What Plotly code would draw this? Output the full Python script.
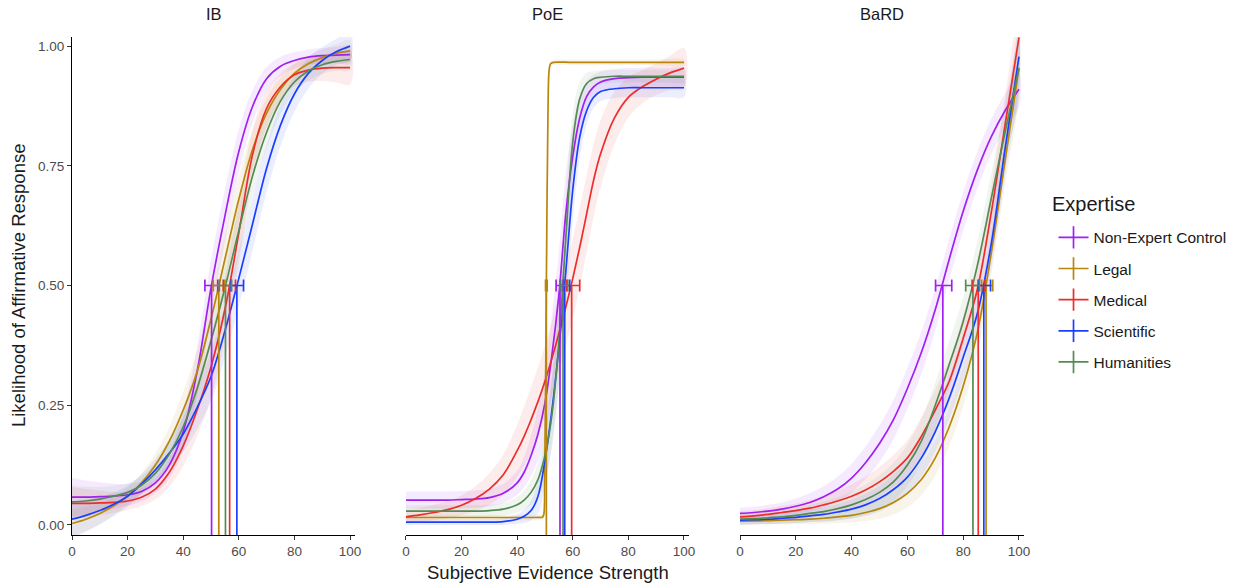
import plotly.graph_objects as go

# ---------------- data ----------------
EXPERTISE = ["Non-Expert Control", "Legal", "Medical", "Scientific", "Humanities"]
COLORS = ["#A020F0", "#B8860B", "#EE2C2C", "#1C3FFF", "#548B54"]
FILLS = ["rgba(160,32,240,0.09)", "rgba(184,134,11,0.09)", "rgba(238,44,44,0.09)",
         "rgba(28,63,255,0.09)", "rgba(84,139,84,0.09)"]

PANELS = ["IB", "PoE", "BaRD"]
LEGEND_TITLE = "Expertise"
X_TITLE = "Subjective Evidence Strength"
Y_TITLE = "Likelihood of Affirmative Response"
X_TICKS = [0, 20, 40, 60, 80, 100]
Y_TICKS = [0, 0.25, 0.5, 0.75, 1.0]
Y_TICK_LABELS = ["0.00", "0.25", "0.50", "0.75", "1.00"]
X_RANGE = [0, 101.8]
Y_RANGE = [-0.021, 1.019]
CROSS_LEVEL = 0.5

X_STD = [0, 5, 10, 15, 20, 25, 30, 35, 40, 45, 50, 55, 60, 65, 70, 75, 80, 85, 90, 95, 100]
X_POE = [0, 5, 10, 15, 20, 25, 30, 35, 40, 42.5, 45, 47.5, 50, 52.5, 55, 57.5, 60, 62.5,
         65, 67.5, 70, 75, 80, 85, 90, 95, 100]
X_POE_LEGAL = [0, 10, 20, 30, 40, 45, 48, 49, 49.5, 49.9, 50.3, 50.7, 51.1, 51.5, 52, 53,
               60, 70, 80, 90, 100]

# IB panel: fitted curves and ribbon half-widths
IB_CONTROL = [0.058, 0.058, 0.059, 0.060, 0.063, 0.070, 0.088, 0.125, 0.195, 0.320, 0.495,
              0.645, 0.780, 0.875, 0.932, 0.958, 0.970, 0.977, 0.980, 0.981, 0.982]
IB_LEGAL = [0.003, 0.012, 0.024, 0.040, 0.060, 0.088, 0.125, 0.175, 0.240, 0.320, 0.430,
            0.555, 0.680, 0.785, 0.860, 0.910, 0.943, 0.963, 0.976, 0.985, 0.990]
IB_MEDICAL = [0.045, 0.045, 0.046, 0.047, 0.050, 0.058, 0.075, 0.110, 0.165, 0.240, 0.330,
              0.450, 0.610, 0.775, 0.870, 0.915, 0.940, 0.950, 0.954, 0.955, 0.955]
IB_SCIENTIFIC = [0.012, 0.020, 0.030, 0.043, 0.060, 0.085, 0.115, 0.150, 0.190, 0.245, 0.310,
                 0.405, 0.515, 0.630, 0.745, 0.835, 0.900, 0.943, 0.970, 0.988, 1.000]
IB_HUMANITIES = [0.048, 0.050, 0.054, 0.060, 0.068, 0.083, 0.108, 0.148, 0.205, 0.285, 0.385,
                 0.495, 0.615, 0.730, 0.820, 0.885, 0.925, 0.948, 0.961, 0.968, 0.972]

IB_CONTROL_W = [0.040, 0.035, 0.030, 0.026, 0.023, 0.021, 0.022, 0.028, 0.040, 0.052, 0.058,
                0.055, 0.046, 0.034, 0.025, 0.020, 0.017, 0.016, 0.016, 0.017, 0.019]
IB_LEGAL_W = [0.030, 0.026, 0.022, 0.019, 0.018, 0.020, 0.024, 0.030, 0.038, 0.046, 0.052,
              0.052, 0.048, 0.040, 0.031, 0.024, 0.019, 0.017, 0.017, 0.019, 0.022]
IB_MEDICAL_W = [0.034, 0.030, 0.026, 0.022, 0.019, 0.019, 0.022, 0.030, 0.042, 0.055, 0.064,
                0.068, 0.064, 0.052, 0.038, 0.028, 0.024, 0.024, 0.027, 0.031, 0.035]
IB_SCIENTIFIC_W = [0.038, 0.033, 0.029, 0.025, 0.022, 0.021, 0.023, 0.028, 0.036, 0.045, 0.052,
                   0.057, 0.058, 0.055, 0.049, 0.043, 0.037, 0.032, 0.028, 0.027, 0.030]
IB_HUMANITIES_W = [0.034, 0.030, 0.026, 0.022, 0.019, 0.019, 0.022, 0.029, 0.038, 0.047, 0.053,
                   0.054, 0.050, 0.043, 0.034, 0.027, 0.022, 0.020, 0.019, 0.020, 0.022]

# PoE panel
POE_CONTROL = [0.052, 0.052, 0.052, 0.052, 0.053, 0.054, 0.057, 0.066, 0.088, 0.110, 0.145,
               0.190, 0.255, 0.355, 0.480, 0.650, 0.770, 0.850, 0.895, 0.915, 0.925, 0.932,
               0.934, 0.935, 0.935, 0.935, 0.935]
POE_LEGAL = [0.0155, 0.0155, 0.0155, 0.0155, 0.0155, 0.0155, 0.0156, 0.0160, 0.020, 0.100,
             0.350, 0.650, 0.870, 0.950, 0.963, 0.966, 0.966, 0.966, 0.966, 0.966, 0.966]
POE_MEDICAL = [0.017, 0.021, 0.026, 0.032, 0.041, 0.055, 0.075, 0.105, 0.155, 0.185, 0.220,
               0.258, 0.300, 0.348, 0.400, 0.455, 0.515, 0.580, 0.650, 0.720, 0.775, 0.850,
               0.893, 0.915, 0.931, 0.944, 0.954]
POE_SCIENTIFIC = [0.006, 0.006, 0.006, 0.006, 0.006, 0.006, 0.006, 0.007, 0.012, 0.018, 0.030,
                  0.060, 0.135, 0.240, 0.370, 0.530, 0.700, 0.810, 0.865, 0.893, 0.905, 0.911,
                  0.913, 0.913, 0.913, 0.913, 0.913]
POE_HUMANITIES = [0.029, 0.029, 0.029, 0.029, 0.029, 0.029, 0.030, 0.033, 0.042, 0.052, 0.068,
                  0.095, 0.145, 0.230, 0.380, 0.600, 0.800, 0.890, 0.922, 0.932, 0.935, 0.937,
                  0.937, 0.937, 0.937, 0.937, 0.937]

POE_CONTROL_W = [0.018, 0.018, 0.018, 0.018, 0.018, 0.018, 0.018, 0.020, 0.025, 0.032, 0.042,
                 0.055, 0.070, 0.085, 0.090, 0.085, 0.065, 0.045, 0.032, 0.025, 0.022, 0.020,
                 0.020, 0.020, 0.020, 0.020, 0.020]
POE_LEGAL_W = [0.006, 0.006, 0.006, 0.006, 0.006, 0.006, 0.006, 0.006, 0.006, 0.006, 0.006,
               0.006, 0.006, 0.006, 0.006, 0.006, 0.006, 0.006, 0.006, 0.006, 0.006]
POE_MEDICAL_W = [0.015, 0.015, 0.016, 0.018, 0.021, 0.026, 0.033, 0.042, 0.055, 0.062, 0.068,
                 0.072, 0.075, 0.078, 0.080, 0.082, 0.083, 0.083, 0.080, 0.076, 0.070, 0.055,
                 0.042, 0.035, 0.033, 0.036, 0.042]
POE_SCIENTIFIC_W = [0.006, 0.006, 0.006, 0.006, 0.006, 0.006, 0.006, 0.007, 0.010, 0.014, 0.020,
                    0.035, 0.055, 0.070, 0.080, 0.080, 0.065, 0.045, 0.030, 0.022, 0.020, 0.020,
                    0.020, 0.020, 0.020, 0.020, 0.020]
POE_HUMANITIES_W = [0.012, 0.012, 0.012, 0.012, 0.012, 0.012, 0.012, 0.013, 0.016, 0.020, 0.026,
                    0.036, 0.050, 0.070, 0.085, 0.085, 0.060, 0.035, 0.022, 0.016, 0.014, 0.013,
                    0.013, 0.013, 0.013, 0.013, 0.013]

# BaRD panel
BARD_CONTROL = [0.024, 0.026, 0.029, 0.033, 0.039, 0.047, 0.059, 0.075, 0.098, 0.130, 0.170,
                0.220, 0.285, 0.360, 0.450, 0.555, 0.655, 0.740, 0.810, 0.865, 0.910]
BARD_LEGAL = [0.008, 0.0085, 0.009, 0.010, 0.011, 0.012, 0.014, 0.017, 0.020, 0.026, 0.034,
              0.047, 0.066, 0.095, 0.140, 0.205, 0.290, 0.400, 0.565, 0.760, 0.955]
BARD_MEDICAL = [0.017, 0.019, 0.022, 0.026, 0.030, 0.035, 0.042, 0.050, 0.060, 0.073, 0.090,
                0.112, 0.140, 0.185, 0.240, 0.300, 0.390, 0.490, 0.650, 0.835, 1.018]
BARD_SCIENTIFIC = [0.010, 0.011, 0.012, 0.014, 0.016, 0.019, 0.022, 0.027, 0.033, 0.042, 0.055,
                   0.074, 0.100, 0.140, 0.195, 0.265, 0.350, 0.440, 0.585, 0.785, 0.978]
BARD_HUMANITIES = [0.012, 0.013, 0.015, 0.017, 0.020, 0.024, 0.028, 0.034, 0.042, 0.053, 0.068,
                   0.090, 0.125, 0.175, 0.250, 0.335, 0.425, 0.540, 0.680, 0.820, 0.953]

BARD_CONTROL_W = [0.012, 0.012, 0.013, 0.014, 0.016, 0.019, 0.022, 0.026, 0.030, 0.034, 0.038,
                  0.041, 0.043, 0.044, 0.044, 0.043, 0.041, 0.039, 0.037, 0.036, 0.038]
BARD_LEGAL_W = [0.008, 0.008, 0.008, 0.009, 0.009, 0.010, 0.011, 0.013, 0.015, 0.018, 0.021,
                0.025, 0.029, 0.033, 0.037, 0.040, 0.042, 0.044, 0.046, 0.050, 0.058]
BARD_MEDICAL_W = [0.012, 0.012, 0.013, 0.014, 0.015, 0.017, 0.019, 0.022, 0.025, 0.028, 0.031,
                  0.034, 0.037, 0.040, 0.043, 0.045, 0.047, 0.049, 0.052, 0.058, 0.068]
BARD_SCIENTIFIC_W = [0.009, 0.009, 0.010, 0.011, 0.012, 0.013, 0.015, 0.017, 0.020, 0.023, 0.027,
                     0.031, 0.035, 0.039, 0.042, 0.045, 0.047, 0.048, 0.050, 0.055, 0.062]
BARD_HUMANITIES_W = [0.012, 0.012, 0.013, 0.014, 0.016, 0.018, 0.021, 0.024, 0.028, 0.032, 0.036,
                     0.040, 0.043, 0.046, 0.048, 0.049, 0.050, 0.051, 0.053, 0.057, 0.064]

# thresholds (x where curve reaches 0.5) and their confidence intervals,
# ordered as EXPERTISE
IB_THRESHOLD = [50.2, 52.8, 56.7, 59.3, 55.2]
IB_CI_LOW = [47.8, 50.8, 54.4, 57.2, 53.0]
IB_CI_HIGH = [52.4, 55.0, 58.8, 61.7, 57.4]
POE_THRESHOLD = [55.4, 50.5, 59.6, 57.1, 56.5]
POE_CI_LOW = [54.0, 50.2, 57.8, 55.6, 55.4]
POE_CI_HIGH = [56.6, 50.8, 62.5, 58.9, 58.2]
BARD_THRESHOLD = [72.7, 88.2, 85.4, 87.4, 83.5]
BARD_CI_LOW = [70.1, 86.6, 83.2, 85.4, 80.9]
BARD_CI_HIGH = [75.9, 90.6, 87.8, 89.8, 85.8]

# ---------------- assemble ----------------
panel_curves = [
    [(X_STD, IB_CONTROL, IB_CONTROL_W), (X_STD, IB_LEGAL, IB_LEGAL_W),
     (X_STD, IB_MEDICAL, IB_MEDICAL_W), (X_STD, IB_SCIENTIFIC, IB_SCIENTIFIC_W),
     (X_STD, IB_HUMANITIES, IB_HUMANITIES_W)],
    [(X_POE, POE_CONTROL, POE_CONTROL_W), (X_POE_LEGAL, POE_LEGAL, POE_LEGAL_W),
     (X_POE, POE_MEDICAL, POE_MEDICAL_W), (X_POE, POE_SCIENTIFIC, POE_SCIENTIFIC_W),
     (X_POE, POE_HUMANITIES, POE_HUMANITIES_W)],
    [(X_STD, BARD_CONTROL, BARD_CONTROL_W), (X_STD, BARD_LEGAL, BARD_LEGAL_W),
     (X_STD, BARD_MEDICAL, BARD_MEDICAL_W), (X_STD, BARD_SCIENTIFIC, BARD_SCIENTIFIC_W),
     (X_STD, BARD_HUMANITIES, BARD_HUMANITIES_W)],
]
panel_thresholds = [
    (IB_THRESHOLD, IB_CI_LOW, IB_CI_HIGH),
    (POE_THRESHOLD, POE_CI_LOW, POE_CI_HIGH),
    (BARD_THRESHOLD, BARD_CI_LOW, BARD_CI_HIGH),
]

fig = go.Figure()
LINE_W = 1.7

for p in range(3):
    xa = "x" if p == 0 else f"x{p + 1}"
    ya = "y" if p == 0 else f"y{p + 1}"
    curves = panel_curves[p]
    # ribbons
    for i, (xs, ys, ws) in enumerate(curves):
        hi = [y + w for y, w in zip(ys, ws)]
        lo = [y - w for y, w in zip(ys, ws)]
        fig.add_trace(go.Scatter(
            x=list(xs) + list(xs)[::-1], y=hi + lo[::-1],
            fill="toself", fillcolor=FILLS[i], line=dict(width=0, shape="spline"),
            mode="lines", hoverinfo="skip", showlegend=False, xaxis=xa, yaxis=ya))
    # curves
    for i, (xs, ys, ws) in enumerate(curves):
        fig.add_trace(go.Scatter(
            x=xs, y=ys, mode="lines", line=dict(color=COLORS[i], width=LINE_W, shape="spline",
                                                smoothing=1.0),
            name=EXPERTISE[i], showlegend=False, xaxis=xa, yaxis=ya))
    # threshold vertical lines and CI bars
    thr, lo_ci, hi_ci = panel_thresholds[p]
    for i in range(5):
        fig.add_trace(go.Scatter(
            x=[thr[i], thr[i]], y=[Y_RANGE[0], CROSS_LEVEL], mode="lines",
            line=dict(color=COLORS[i], width=LINE_W), hoverinfo="skip",
            showlegend=False, xaxis=xa, yaxis=ya))
    for i in range(5):
        fig.add_trace(go.Scatter(
            x=[thr[i]], y=[CROSS_LEVEL], mode="markers",
            marker=dict(size=1, color=COLORS[i]),
            error_x=dict(type="data", symmetric=False, array=[hi_ci[i] - thr[i]],
                         arrayminus=[thr[i] - lo_ci[i]], color=COLORS[i],
                         thickness=LINE_W, width=6),
            showlegend=False, xaxis=xa, yaxis=ya))

# legend entries
for i, name in enumerate(EXPERTISE):
    fig.add_trace(go.Scatter(
        x=[None], y=[None], mode="lines+markers", name=name, legendgroup=name,
        line=dict(color=COLORS[i], width=LINE_W),
        marker=dict(symbol="line-ns-open", size=16, color=COLORS[i],
                    line=dict(color=COLORS[i], width=LINE_W)),
        xaxis="x3", yaxis="y3"))

FONT = "Liberation Sans, Arial, sans-serif"
DOMAINS = [[0.0, 0.2973], [0.3508, 0.6481], [0.7017, 1.0]]
TICK_FONT = dict(size=13.5, color="#4D4D4D", family=FONT)

axis_common = dict(range=X_RANGE, showline=True, linecolor="black", linewidth=1,
                   ticks="outside", ticklen=4, tickcolor="#333333", tickwidth=1,
                   tickvals=X_TICKS, tickfont=TICK_FONT,
                   showgrid=False, zeroline=False, fixedrange=True)

layout = dict(
    width=1239, height=585,
    margin=dict(l=72, r=215, t=37, b=50, autoexpand=False),
    paper_bgcolor="white", plot_bgcolor="white",
    font=dict(family=FONT, color="#1A1A1A"),
    showlegend=True,
    legend=dict(x=1.031, y=0.631, xanchor="left", yanchor="top",
                font=dict(size=15.5, color="#1A1A1A"), tracegroupgap=8,
                itemwidth=30, bgcolor="rgba(0,0,0,0)"),
)
for p in range(3):
    key = "xaxis" if p == 0 else f"xaxis{p + 1}"
    layout[key] = dict(axis_common, domain=DOMAINS[p],
                       anchor="y" if p == 0 else f"y{p + 1}")
layout["yaxis"] = dict(range=Y_RANGE, domain=[0, 1], anchor="x", showline=True,
                       linecolor="black", linewidth=1, ticks="outside", ticklen=4,
                       tickcolor="#333333", tickvals=Y_TICKS, ticktext=Y_TICK_LABELS,
                       tickfont=TICK_FONT,
                       showgrid=False, zeroline=False, fixedrange=True)
for p in (1, 2):
    layout[f"yaxis{p + 1}"] = dict(range=Y_RANGE, domain=[0, 1], anchor=f"x{p + 1}",
                                   showline=False, showticklabels=False, ticks="",
                                   showgrid=False, zeroline=False, fixedrange=True)

annotations = []
for p, name in enumerate(PANELS):
    annotations.append(dict(text=name, x=(DOMAINS[p][0] + DOMAINS[p][1]) / 2, y=1.046,
                            xref="paper", yref="paper", showarrow=False,
                            font=dict(size=16.5, color="#1A1A1A", family=FONT),
                            xanchor="center", yanchor="middle"))
annotations.append(dict(text=X_TITLE, x=0.5, y=-0.076, xref="paper",
                        yref="paper", showarrow=False, xanchor="center", yanchor="middle",
                        font=dict(size=18.5, color="#1A1A1A", family=FONT)))
annotations.append(dict(text=Y_TITLE, x=-0.0567, y=0.502,
                        xref="paper", yref="paper", showarrow=False, textangle=-90,
                        xanchor="center", yanchor="middle",
                        font=dict(size=18.5, color="#1A1A1A", family=FONT)))
annotations.append(dict(text=LEGEND_TITLE, x=1.0275, y=0.664, xref="paper", yref="paper",
                        showarrow=False, xanchor="left", yanchor="middle",
                        font=dict(size=20, color="#1A1A1A", family=FONT)))
layout["annotations"] = annotations

fig.update_layout(**layout)
fig.write_html("out.html")
